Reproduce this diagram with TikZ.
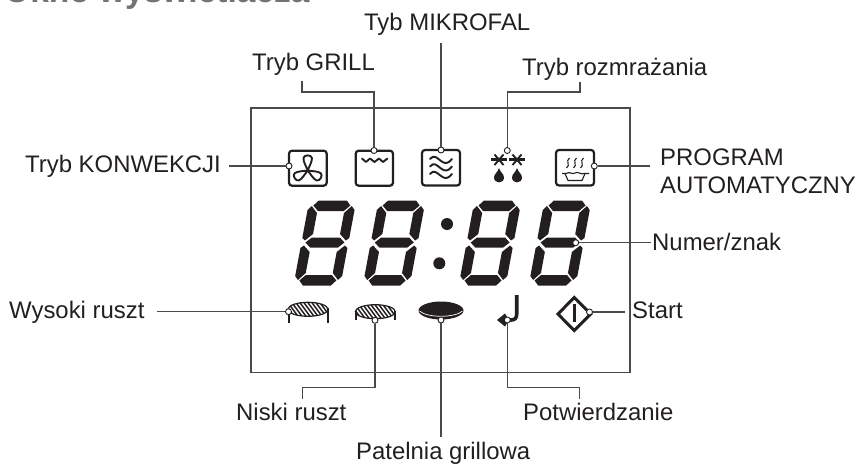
\documentclass[tikz,border=0pt]{standalone}
\usepackage{fontspec}
\setmainfont{Liberation Sans}
\definecolor{ink}{HTML}{231F20}
\definecolor{leader}{HTML}{4A4A4A}
\tikzset{
  lbl/.style={anchor=base west,inner sep=0pt,text=ink,font=\fontsize{23.9}{28}\selectfont},
  panel/.style={draw=leader,line width=1.3pt},
  leaderline/.style={draw=leader,line width=1.3pt},
  mark dot/.style={circle,draw=ink,fill=white,inner sep=0pt,minimum size=6pt,line width=0.9pt},
  iconbox/.style={draw=ink,line width=2.2pt,rounded corners=3pt},
  iconline/.style={draw=ink,line width=1.9pt,line cap=round,line join=round},
  hatch/.style={draw=ink,line width=1.5pt}
}
\begin{document}
\begin{tikzpicture}[x=1pt,y=-1pt]
\useasboundingbox (0,0) rectangle (858,463);
\begin{scope}
\clip (0,0) rectangle (858,463);
\node[anchor=base west,inner sep=0pt,text=black!55,font=\fontsize{33.5}{36}\bfseries\selectfont] (head) at (4,2.5) {Okno wyświetlacza};
\end{scope}
% panel
\draw[panel] (251,108) rectangle (630,372.7);

% segment display
\foreach \ox in {294,363.3,459.2,529.2}{
\begin{scope}[shift={(\ox,285)},x={(1pt,0pt)},y={(0.187pt,1pt)}]
  \fill[ink] (4.5,79.5) -- (9,84.5) -- (37,84.5) -- (41.5,79.5) -- (36,74) -- (10,74) -- cycle;
  \fill[ink] (3.5,42.5) -- (9,47.5) -- (37,47.5) -- (42.5,42.5) -- (37,37.5) -- (9,37.5) -- cycle;
  \fill[ink] (4.5,4.5) -- (9,-0.5) -- (37,-0.5) -- (41.5,4.5) -- (36,10) -- (10,10) -- cycle;
  \fill[ink] (-0.5,47) -- (2.5,44.5) -- (9.5,51) -- (9.5,72) -- (3,79) -- (-0.5,75) -- cycle;
  \fill[ink] (46.5,47) -- (43.5,44.5) -- (36.5,51) -- (36.5,72) -- (43,79) -- (46.5,75) -- cycle;
  \fill[ink] (-0.5,37) -- (2.5,39.5) -- (9.5,33) -- (9.5,12) -- (3,5) -- (-0.5,9) -- cycle;
  \fill[ink] (46.5,37) -- (43.5,39.5) -- (36.5,33) -- (36.5,12) -- (43,5) -- (46.5,9) -- cycle;
\end{scope}}
\fill[ink] (447,224) circle (6);
\fill[ink] (439.3,263.3) circle (6);

% convection icon
\draw[iconbox] (289,150.7) rectangle (326.7,185.7);
\foreach \a in {0,120,240}{
  \draw[iconline,shift={(307.7,170.5)},rotate=\a] (0,0) .. controls (-1.5,-4) and (-4.5,-9) .. (-4.2,-12.5) .. controls (-3.8,-16) and (3.8,-16) .. (4.2,-12.5) .. controls (4.5,-9) and (1.5,-4) .. (0,0);
}
% grill icon
\draw[iconbox] (355.7,150.7) rectangle (393,185.7);
\draw[iconline] (362,158.5) -- (366,162) -- (370,158.5) -- (374.5,162) -- (379,158.5) -- (383,162) -- (387.5,158.5);
% microwave icon
\draw[iconbox] (422,150) rectangle (460,185.5);
\foreach \yy in {161,168.5,176}{
  \draw[iconline,shift={(0,\yy)}] (430,-2) .. controls (434,-7) and (437,-3) .. (441,0) .. controls (445,3) and (448,3) .. (452,-2);
}
% defrost icon
\foreach \sx in {499,517}{
  \draw[ink,line width=2.4pt] (\sx-8,159.5) -- (\sx+8,159.5);
  \draw[ink,line width=1.9pt] (\sx-4.5,154.5) -- (\sx+4.5,165);
  \draw[ink,line width=1.9pt] (\sx+4.5,154.5) -- (\sx-4.5,165);
  \fill[ink] (\sx,168) .. controls (\sx+1,172) and (\sx+5,174) .. (\sx+5,177.5) .. controls (\sx+5,184) and (\sx-5,184) .. (\sx-5,177.5) .. controls (\sx-5,174) and (\sx-1,172) .. (\sx,168) -- cycle;
}
% auto program icon
\draw[iconbox] (556,150) rectangle (594,185.5);
\foreach \sx in {568,575,582}{
  \draw[ink,line width=1.1pt,shift={(\sx,163)}] (1.5,-5) .. controls (-3,-2) and (3,2) .. (-1.5,5);
}
\draw[ink,line width=1.1pt] (562,173.5) -- (566,173.5) .. controls (570,171) and (572,175) .. (575,173) .. controls (578,171) and (581,175) .. (584,173.5) -- (589,173.5);
\draw[ink,line width=1.1pt] (565,173.5) -- (568,180.5) -- (582,180.5) -- (585,173.5);

% high rack
\begin{scope}
  \clip (308,309.3) ellipse (20 and 7);
  \foreach \k in {0,4,...,56}{\draw[hatch] (278+\k,300) -- (292+\k,319);}
\end{scope}
\draw[ink,line width=1.2pt] (308,309.3) ellipse (20 and 7);
\draw[ink,line width=1.2pt] (289,312) -- (289,323);
\draw[ink,line width=1.2pt] (328,308) -- (328,323);
% low rack
\begin{scope}
  \clip (375.3,311.7) ellipse (20 and 7);
  \foreach \k in {0,4,...,56}{\draw[hatch] (345+\k,302) -- (359+\k,321);}
\end{scope}
\draw[ink,line width=1.2pt] (375.3,311.7) ellipse (20 and 7);
\draw[ink,line width=1.6pt] (355.7,311) -- (355.7,320);
\draw[ink,line width=1.6pt] (395,311) -- (395,320);
% grill pan
\fill[ink] (441,310.5) ellipse (22.5 and 9);
\draw[white,line width=0.7pt] (419.5,311) .. controls (427,318) and (455,318) .. (462.5,311);
% confirm arrow
\draw[ink,line width=3.6pt] (516.7,295) -- (516.7,314) .. controls (516.7,318) and (515,320) .. (511,320) -- (505,320);
\fill[ink] (497,320) -- (505,313.5) -- (509,320) -- (505,326.5) -- cycle;
% start icon
\draw[ink,line width=3pt] (574.3,297.5) -- (590.7,314) -- (574.3,330.5) -- (557.9,314) -- cycle;
\fill[ink] (572.5,304) rectangle (576.2,322);

% labels
\node[lbl] (lmicro) at (364,30) {Tyb MIKROFAL};
\node[lbl] (lgrill) at (252,70) {Tryb GRILL};
\node[lbl] (ldefrost) at (522,75) {Tryb rozmrażania};
\node[lbl] (lconv) at (25,172) {Tryb KONWEKCJI};
\node[lbl] (lauto1) at (660,165) {PROGRAM};
\node[lbl] (lauto2) at (660,193) {AUTOMATYCZNY};
\node[lbl] (lnum) at (652,250) {Numer/znak};
\node[lbl] (lhigh) at (9,318) {Wysoki ruszt};
\node[lbl] (lstart) at (632,318) {Start};
\node[lbl] (llow) at (236,420.7) {Niski ruszt};
\node[lbl] (lconfirm) at (523,420.7) {Potwierdzanie};
\node[lbl] (lpan) at (356,459) {Patelnia grillowa};

% markers
\node[mark dot] (mconv) at (289,166) {};
\node[mark dot] (mgrill) at (374,150.5) {};
\node[mark dot] (mmicro) at (441,150) {};
\node[mark dot] (mdefrost) at (507.3,150.5) {};
\node[mark dot] (mauto) at (594.3,166) {};
\node[mark dot] (mnum) at (575.7,242.7) {};
\node[mark dot] (mhigh) at (288.5,311.7) {};
\node[mark dot] (mlow) at (375,320.3) {};
\node[mark dot] (mpan) at (441,320) {};
\node[mark dot] (mconfirm) at (507.3,320) {};
\node[mark dot] (mstart) at (589.5,312) {};

% free ends
\coordinate (econv) at (229,166);
\coordinate (egrill) at (302,81);
\coordinate (emicro) at (441,43);
\coordinate (edefrost) at (580,81.7);
\coordinate (eauto) at (650,166);
\coordinate (enum) at (651,242.7);
\coordinate (ehigh) at (157,311.7);
\coordinate (elow) at (302.3,399.3);
\coordinate (epan) at (441,436.7);
\coordinate (econfirm) at (579.7,399.3);
\coordinate (estart) at (625,312);

% connectors
\draw[leaderline] (econv) -- (mconv);
\draw[leaderline] (mgrill) -- (374,92) -| (egrill);
\draw[leaderline] (mmicro) -- (emicro);
\draw[leaderline] (mdefrost) -- (507.3,92) -| (edefrost);
\draw[leaderline] (mauto) -- (eauto);
\draw[leaderline] (mnum) -- (enum);
\draw[leaderline] (mhigh) -- (ehigh);
\draw[leaderline] (mlow) -- (375,387.7) -| (elow);
\draw[leaderline] (mpan) -- (epan);
\draw[leaderline] (mconfirm) -- (507.3,387.7) -| (econfirm);
\draw[leaderline] (mstart) -- (estart);
\end{tikzpicture}
\end{document}
